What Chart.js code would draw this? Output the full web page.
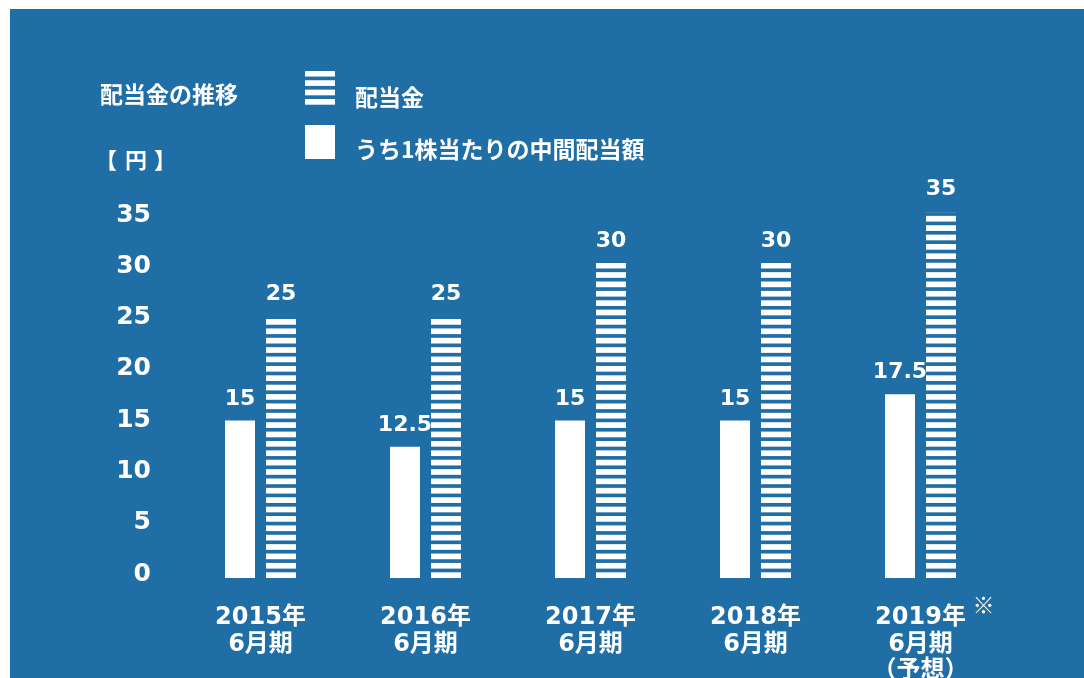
<!DOCTYPE html>
<html><head><meta charset="utf-8">
<script src="https://cdn.jsdelivr.net/npm/chart.js@4.4.0/dist/chart.umd.min.js"></script>
<style>html,body{margin:0;padding:0;background:#fff;overflow:hidden;}</style>
</head><body>
<canvas id="c" width="1084" height="678"></canvas>
<script>
// ---- data ----
const categories = [['2015年','6月期'],['2016年','6月期'],['2017年','6月期'],['2018年','6月期'],['2019年','6月期','（予想）']];
const interimDividend = [15, 12.5, 15, 15, 17.5];
const annualDividend = [25, 25, 30, 30, 35];
const yTickValues = [0, 5, 10, 15, 20, 25, 30, 35];
const seriesNames = ['うち1株当たりの中間配当額', '配当金'];
const chartTitle = '配当金の推移';
const unitLabel = ['【', '円', '】'];
const footnoteMark = '※';

// ---- style ----
const BLUE = '#206ea6';
const WHITE = '#ffffff';
const NUM_FONT = '"DejaVu Sans", "Noto Sans CJK JP", sans-serif';
const JP_FONT = '"Noto Sans CJK JP", sans-serif';
const STRIPE_PERIOD = 9.38, STRIPE_WHITE = 5.7;

function drawStripes(ctx, left, width, top, base) {
  ctx.save();
  ctx.beginPath();
  ctx.rect(left, top - 1.5, width, base - top + 1.5);
  ctx.clip();
  ctx.fillStyle = BLUE;
  const gap = STRIPE_PERIOD - STRIPE_WHITE;
  let highest = null;
  for (let b = base - STRIPE_WHITE; b > top; b -= STRIPE_PERIOD) {
    ctx.fillRect(left - 1, b - gap, width + 2, gap);
    highest = b;
  }
  if (highest !== null) {
    const gapTop = highest - gap;
    if (gapTop <= top) {
      ctx.fillRect(left - 1, top - 1.5, width + 2, gapTop - top + 2);
    } else if (gapTop - top < 3) {
      ctx.fillRect(left - 1, top - 1.5, width + 2, gapTop - top + 1.5);
    }
  }
  ctx.restore();
}

const decorPlugin = {
  id: 'decor',
  beforeDraw(chart) {
    const ctx = chart.ctx;
    ctx.save();
    ctx.fillStyle = WHITE;
    ctx.fillRect(0, 0, chart.width, chart.height);
    ctx.fillStyle = BLUE;
    ctx.fillRect(10, 9, chart.width - 10, chart.height - 9);
    ctx.restore();
  },
  afterDatasetsDraw(chart) {
    const ctx = chart.ctx;
    // stripes on annual dividend bars
    const stripedMeta = chart.getDatasetMeta(1);
    stripedMeta.data.forEach(bar => {
      const p = bar.getProps(['x', 'y', 'base', 'width'], true);
      drawStripes(ctx, p.x - p.width / 2, p.width, p.y, p.base);
    });
    // value labels
    ctx.save();
    ctx.fillStyle = WHITE;
    ctx.textAlign = 'center';
    ctx.textBaseline = 'middle';
    ctx.font = 'bold 22px ' + NUM_FONT;
    chart.data.datasets.forEach((ds, di) => {
      chart.getDatasetMeta(di).data.forEach((bar, i) => {
        const p = bar.getProps(['x', 'y'], true);
        ctx.fillText(String(ds.data[i]), p.x, p.y - 21.5);
      });
    });
    ctx.restore();
  },
  afterDraw(chart) {
    const ctx = chart.ctx;
    ctx.save();
    ctx.fillStyle = WHITE;
    ctx.textBaseline = 'middle';
    ctx.textAlign = 'left';
    ctx.font = 'bold 23px ' + JP_FONT;
    ctx.fillText(chartTitle, 100, 94);
    // unit
    ctx.font = 'bold 22px ' + JP_FONT;
    ctx.textAlign = 'left';
    ctx.fillText(unitLabel[0], 95, 160);
    ctx.textAlign = 'center';
    ctx.fillText(unitLabel[1], 136, 160);
    ctx.textAlign = 'left';
    ctx.fillText(unitLabel[2], 154, 160);
    // legend: striped (dataset 1) first, solid (dataset 0) second
    ctx.fillStyle = WHITE;
    ctx.fillRect(305, 71, 30, 33.7);
    drawStripes(ctx, 305, 30, 71, 104.7);
    ctx.fillStyle = WHITE;
    ctx.fillRect(305, 125, 30, 34);
    ctx.textAlign = 'left';
    ctx.font = 'bold 23px ' + JP_FONT;
    ctx.fillText(chart.data.datasets[1].label, 355, 97);
    ctx.fillText(chart.data.datasets[0].label, 355, 149.5);
    // footnote mark after last category
    const xs = chart.scales.x;
    ctx.font = 'bold 22px ' + JP_FONT;
    ctx.textAlign = 'center';
    ctx.fillText(footnoteMark, xs.getPixelForValue(categories.length - 1) + 63, 605);
    ctx.restore();
  }
};

new Chart(document.getElementById('c'), {
  type: 'bar',
  data: {
    labels: categories,
    datasets: [
      { label: seriesNames[0], data: interimDividend, backgroundColor: WHITE, yAxisID: 'y',
        categoryPercentage: 0.497, barPercentage: 0.7317 },
      { label: seriesNames[1], data: annualDividend, backgroundColor: WHITE, yAxisID: 'y',
        categoryPercentage: 0.497, barPercentage: 0.7317 }
    ]
  },
  options: {
    responsive: false,
    devicePixelRatio: 1,
    animation: false,
    layout: { padding: { top: 170, right: 81, left: 0, bottom: 0 } },
    plugins: { legend: { display: false }, tooltip: { enabled: false }, title: { display: false } },
    scales: {
      x: {
        type: 'category',
        grid: { display: false },
        border: { display: false },
        ticks: {
          color: WHITE,
          font: { family: NUM_FONT, size: 24, weight: 'bold', lineHeight: 1.12 },
          padding: 18,
          maxRotation: 0,
          autoSkip: false
        },
        afterFit: s => { s.height = 100; }
      },
      y: {
        display: false,
        min: 0,
        max: 38.857
      },
      yTicks: {
        type: 'linear',
        position: 'left',
        min: -0.39,
        max: 39.39,
        grid: { display: false },
        border: { display: false },
        ticks: {
          color: WHITE,
          font: { family: NUM_FONT, size: 25, weight: 'bold' },
          padding: 19
        },
        afterBuildTicks: s => { s.ticks = yTickValues.map(v => ({ value: v })); },
        afterFit: s => { s.width = 178; }
      }
    }
  },
  plugins: [decorPlugin]
});
</script>
</body></html>
